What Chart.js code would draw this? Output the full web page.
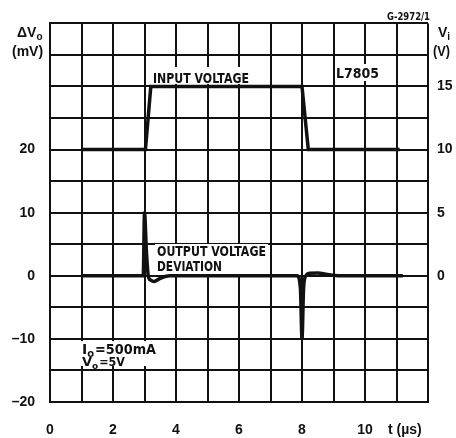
<!DOCTYPE html>
<html>
<head>
<meta charset="utf-8">
<script src="https://cdn.jsdelivr.net/npm/chart.js@4"></script>
<style>
  html, body { margin: 0; padding: 0; background: #fff; }
  canvas { display: block; }
</style>
</head>
<body>
<canvas id="chart" width="456" height="438"></canvas>
<script>
// ----- data -----
const inputT  = [1.0, 3.03, 3.2, 8.0, 8.2, 11.1];          // µs
const inputV  = [10, 10, 15, 15, 10, 10];                  // V
const outputT = [1.0, 2.96, 3.0, 3.06, 3.12, 3.2, 3.3, 3.5, 3.8, 7.85, 7.95, 8.0, 8.05, 8.12, 8.25, 8.5, 8.8, 9.2, 11.2];
const outputMV = [0, 0, 10, 4, 0, -0.7, -0.9, -0.4, 0, 0, -2, -10, -2, 0, 0.4, 0.45, 0.2, 0, 0];
const xLabels = [0, 2, 4, 6, 8, 10];
const leftLabels = [-20, -10, 0, 10, 20];
const rightLabels = [0, 5, 10, 15];

const INK = '#111';
const SANS = "'Liberation Sans', Arial, sans-serif";   // ticks, axis titles
const HEAVY = "'DejaVu Sans', 'Liberation Sans', sans-serif"; // captions (squeezed)
const dash = (v) => (v < 0 ? '\u2013' + Math.abs(v) : String(v));

function toPts(xs, ys){ return xs.map((x, i) => ({ x: x, y: ys[i] })); }

// free text on the plot; returns end x
function txt(ctx, s, x, y, size, maxW, fam){
  ctx.font = 'bold ' + size + 'px ' + (fam || SANS);
  const w = Math.min(ctx.measureText(s).width, maxW || 1e9);
  if (maxW) ctx.fillText(s, x, y, maxW); else ctx.fillText(s, x, y);
  return x + w;
}
function sub(ctx, main, low, x, y, size, fam){
  const x1 = txt(ctx, main, x, y, size, 0, fam);
  return txt(ctx, low, x1, y + 3, Math.round(size * 0.72), 0, fam);
}

// the captions sit on white patches that hide the grid
const patches = [
  [151, 67, 101, 17],
  [155, 244, 113, 30],
  [335, 64, 46, 17],
  [80, 341, 77, 25]
];

const labelsPlugin = {
  id: 'labels',
  beforeDatasetsDraw(chart){
    const ctx = chart.ctx;
    ctx.save();
    ctx.fillStyle = '#fff';
    patches.forEach(p => ctx.fillRect(p[0], p[1], p[2], p[3]));
    ctx.restore();
  },
  afterDraw(chart){
    const ctx = chart.ctx;
    ctx.save();
    ctx.fillStyle = INK;
    ctx.textAlign = 'left';
    ctx.textBaseline = 'alphabetic';
    sub(ctx, '\u0394V', 'o', 17, 37, 14);
    txt(ctx, '(mV)', 12, 56, 14, 33);
    sub(ctx, 'V', 'i', 438, 37, 14);
    txt(ctx, '(V)', 433, 56, 14, 17);
    txt(ctx, 'G-2972/1', 387, 20, 10, 43, HEAVY);
    txt(ctx, 'L7805', 336, 78, 14, 43, HEAVY);
    txt(ctx, 'INPUT VOLTAGE', 153, 83, 14, 96, HEAVY);
    txt(ctx, 'OUTPUT VOLTAGE', 157, 256, 14, 109, HEAVY);
    txt(ctx, 'DEVIATION', 157, 271, 14, 65, HEAVY);
    let e = sub(ctx, 'I', 'o', 82, 354, 14, HEAVY);
    txt(ctx, '=500mA', e + 1, 354, 14, 155 - e, HEAVY);
    e = sub(ctx, 'V', 'o', 82, 366, 13, HEAVY);
    txt(ctx, '=5V', e + 1, 366, 13, 124 - e, HEAVY);
    txt(ctx, 't (\u00b5s)', 388, 434, 14, 41);
    ctx.restore();
  }
};

const tickFont = { family: SANS, size: 14, weight: 'bold' };

new Chart(document.getElementById('chart'), {
  type: 'scatter',
  data: {
    datasets: [
      {
        label: 'Input voltage',
        data: toPts(inputT, inputV),
        yAxisID: 'yR',
        showLine: true,
        borderColor: INK,
        borderWidth: 3.5,
        pointRadius: 0,
        tension: 0
      },
      {
        label: 'Output voltage deviation',
        data: toPts(outputT, outputMV),
        yAxisID: 'y',
        showLine: true,
        borderColor: INK,
        borderWidth: 3.5,
        borderJoinStyle: 'round',
        pointRadius: 0,
        cubicInterpolationMode: 'monotone'
      }
    ]
  },
  options: {
    responsive: false,
    animation: false,
    layout: { padding: { top: 22 } },
    plugins: { legend: { display: false }, tooltip: { enabled: false } },
    scales: {
      x: {
        type: 'linear', min: 0, max: 12,
        afterFit: (s) => { s.height = 36; },
        grid: { color: INK, lineWidth: 2, drawTicks: false },
        border: { color: INK, width: 2 },
        ticks: {
          stepSize: 1, padding: 20, color: INK, maxRotation: 0, autoSkip: false,
          font: tickFont,
          callback: (v) => (xLabels.includes(v) ? String(v) : '')
        }
      },
      y: {
        position: 'left', min: -20, max: 40,
        afterFit: (s) => { s.width = 50; },
        grid: { color: INK, lineWidth: 2, drawTicks: false },
        border: { color: INK, width: 2 },
        ticks: {
          stepSize: 5, padding: 15, color: INK, autoSkip: false,
          font: tickFont,
          callback: (v) => (leftLabels.includes(v) ? dash(v) : '')
        }
      },
      yR: {
        position: 'right', min: -10, max: 20,
        afterFit: (s) => { s.width = 28; },
        grid: { display: false, drawTicks: false },
        border: { display: false },
        ticks: {
          stepSize: 5, padding: 9, color: INK, autoSkip: false,
          font: tickFont,
          callback: (v) => (rightLabels.includes(v) ? String(v) : '')
        }
      }
    }
  },
  plugins: [labelsPlugin]
});
</script>
</body>
</html>
